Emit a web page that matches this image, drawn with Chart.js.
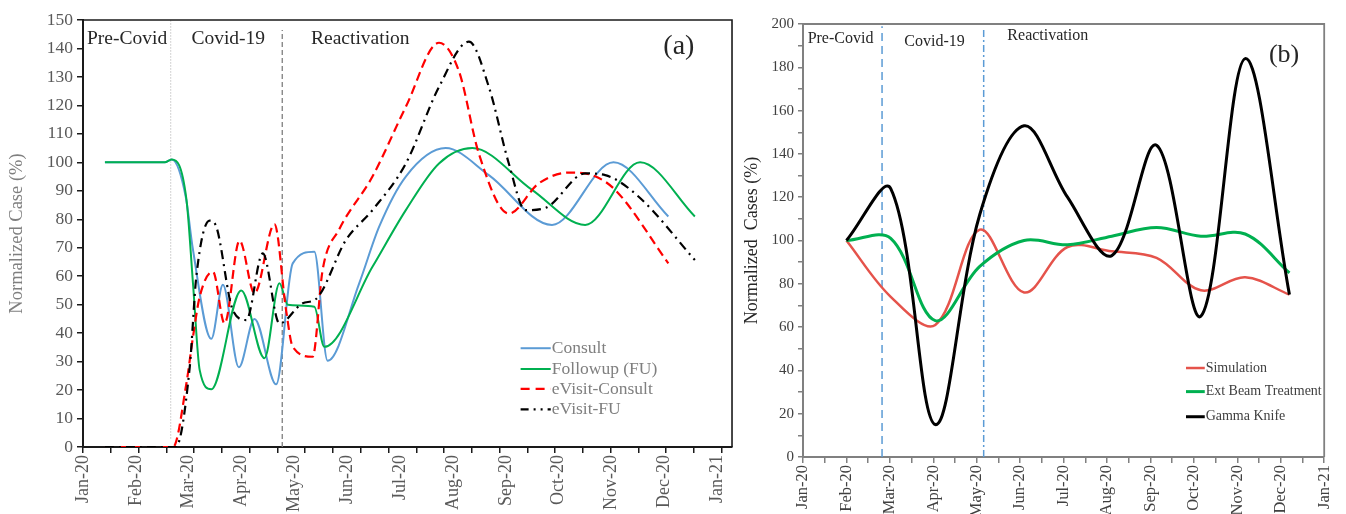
<!DOCTYPE html>
<html>
<head>
<meta charset="utf-8">
<script src="https://cdn.jsdelivr.net/npm/chart.js@4.4.1/dist/chart.umd.min.js"></script>
<style>
  html, body { margin: 0; padding: 0; background: #ffffff; }
  body { width: 1346px; height: 514px; position: relative; overflow: hidden; }
  canvas { position: absolute; top: 0; }
  #ca { left: 0; }
  #cb { left: 741px; }
</style>
</head>
<body>
<canvas id="ca" width="741" height="514"></canvas>
<canvas id="cb" width="605" height="514"></canvas>
<script>
// ---------- tick labels (x in months from Jan-20) ----------
const monthLabels = ['Jan-20','Feb-20','Mar-20','Apr-20','May-20','Jun-20','Jul-20','Aug-20','Sep-20','Oct-20','Nov-20','Dec-20','Jan-21'];
const phaseLabels = ['Pre-Covid','Covid-19','Reactivation'];

// ---------- panel (a) ----------
const consultX = [0.415,1.547,1.679,1.943,2.075,2.428,2.647,2.949,3.245,3.655,3.968,4.377,4.628,5.226,5.604,6.108,6.862,7.679,8.874,10.038,11.075];
const consultY = [100,100,101,88,70,38,57,28,45,22,64.5,68.6,30.3,57.5,77.4,95,105,95.5,78,100,81];

const followX = [0.415,1.547,1.679,1.957,2.081,2.208,2.428,2.994,3.434,3.717,3.874,4.377,4.566,5.477,6.108,6.736,7.364,8.496,9.502,10.540,11.577];
const followY = [100,100,101,87,57.5,27,20.3,55,31.2,57.5,50,49.3,35.2,63.3,83.2,99.6,105,90.3,78,100,81];

const eConsultX = [0.415,1.547,1.704,1.957,2.081,2.208,2.458,2.679,2.962,3.245,3.623,3.843,3.968,4.345,4.534,4.849,5.477,6.108,6.736,7.113,7.491,8.057,8.623,9.189,9.628,10.070,11.075];
const eConsultY = [0,0,0,22.4,38.7,52.8,61.6,43.4,72.5,54,78.3,48,35.2,31.7,62.2,76.5,95,119.5,142,132,103,82,92.6,96.4,95.5,90.3,64.5];

const eFUX = [0.415,1.547,1.755,2.019,2.145,2.396,2.509,2.836,3.089,3.402,3.717,4.157,4.409,4.975,5.477,6.108,6.736,7.302,7.679,8.057,8.372,8.749,9.504,9.881,10.509,11.577];
const eFUY = [0,0,0,28,60,79.5,78,48,44.6,68,43.4,50.5,52,72.7,83.2,99.6,126.5,142.4,126.5,99.6,83.2,84,96.1,95.5,88,65.7];

const phaseLinesA = [1.66, 3.77];   // boundaries Pre-Covid | Covid-19 | Reactivation
const tickStepA = 0.5255;           // spacing of the tick marks on axis (a), in months

// ---------- panel (b) ----------
const monthsB = [1.0,2.02,3.045,4.07,5.09,6.09,7.11,8.14,9.16,10.18,11.2];
const simulationY = [100,74,61,105,76,97,95,92,77,83,75];
const extBeamY    = [100,101,63,88,100,98,102,106,102,103,85];
const gammaKnifeY = [100,124,15,112,153,120,93,144,65,184,75];
const phaseLinesB = [1.82, 4.16];

// ---------- helpers ----------
const SERIF = "'Liberation Serif', 'Times New Roman', serif";
const pts = (xs, ys) => xs.map((x, i) => ({ x, y: ys[i] }));
const vline = (x, y0, y1) => [{ x, y: y0 }, { x, y: y1 }];

const overlay = {
  id: 'overlay',
  afterDraw(chart, args, o) {
    const { ctx, chartArea: ca, scales: { x, y } } = chart;
    ctx.save();
    ctx.strokeStyle = o.frameColor; ctx.lineWidth = o.frameWidth;
    ctx.beginPath();
    ctx.moveTo(ca.left, ca.top); ctx.lineTo(ca.right, ca.top); ctx.lineTo(ca.right, ca.bottom);
    ctx.stroke();
    ctx.textAlign = 'left'; ctx.textBaseline = 'alphabetic';
    for (const t of o.texts) {
      ctx.font = t.font; ctx.fillStyle = t.color;
      ctx.fillText(t.text, x.getPixelForValue(t.x), y.getPixelForValue(t.y));
    }
    const L = o.legend;
    ctx.textBaseline = 'middle';
    ctx.font = L.font;
    L.items.forEach((it, i) => {
      const ds = chart.data.datasets[it.ds];
      const py = y.getPixelForValue(L.rows[i]);
      const x0 = x.getPixelForValue(L.x0), x1 = x.getPixelForValue(L.x1);
      ctx.save();
      ctx.strokeStyle = ds.borderColor; ctx.lineWidth = ds.borderWidth;
      ctx.setLineDash(it.dash || []);
      ctx.beginPath(); ctx.moveTo(x0, py); ctx.lineTo(x1, py); ctx.stroke();
      ctx.restore();
      ctx.fillStyle = L.color;
      ctx.fillText(ds.label, x.getPixelForValue(L.tx), py);
    });
    ctx.restore();
  }
};

function halfMonthTicks(scale) {
  const t = [];
  for (let v = 0; v <= scale.max + 1e-9; v += 0.5) t.push({ value: v });
  scale.ticks = t;
}
// axis (a): evenly spaced tick marks (no label) followed by the labelled month ticks (no mark)
function ticksA(scale) {
  const marks = [], labs = [];
  for (let i = 0; i * tickStepA <= scale.max; i++) marks.push({ value: i * tickStepA, lab: false, mark: true });
  for (let k = 0; k < monthLabels.length; k++) labs.push({ value: k, lab: true, mark: false });
  scale.ticks = marks.concat(labs);
}

// ---------- chart (a) ----------
new Chart(document.getElementById('ca'), {
  type: 'line',
  data: {
    datasets: [
      { label: 'eVisit-FU', data: pts(eFUX, eFUY), borderColor: '#000000', borderWidth: 2.2, borderDash: [9, 5, 2, 5], cubicInterpolationMode: 'monotone', order: 0 },
      { label: 'eVisit-Consult', data: pts(eConsultX, eConsultY), borderColor: '#FF0000', borderWidth: 2.2, borderDash: [9, 5], cubicInterpolationMode: 'monotone', order: 1 },
      { label: 'Followup (FU)', data: pts(followX, followY), borderColor: '#00B050', borderWidth: 2, cubicInterpolationMode: 'monotone', order: 2 },
      { label: 'Consult', data: pts(consultX, consultY), borderColor: '#5B9BD5', borderWidth: 2, cubicInterpolationMode: 'monotone', order: 3 },
      { label: 'phase1', data: vline(phaseLinesA[0], 3, 150), borderColor: '#A6A6A6', borderWidth: 1, borderDash: [1, 2], order: 5 },
      { label: 'phase2', data: vline(phaseLinesA[1], 0, 146.5), borderColor: '#7F7F7F', borderWidth: 1.3, borderDash: [5, 3], order: 5 }
    ]
  },
  options: {
    responsive: false, animation: false,
    layout: { padding: { top: 20, right: 8, left: 0, bottom: 0 } },
    elements: { point: { radius: 0 }, line: { fill: false } },
    plugins: {
      legend: { display: false }, tooltip: { enabled: false },
      overlay: {
        frameColor: '#1a1a1a', frameWidth: 1.6,
        texts: [
          { text: phaseLabels[0], x: 0.075, y: 141.4, font: `19.5px ${SERIF}`, color: '#262626' },
          { text: phaseLabels[1], x: 2.051, y: 141.4, font: `19.5px ${SERIF}`, color: '#262626' },
          { text: phaseLabels[2], x: 4.315, y: 141.4, font: `19.5px ${SERIF}`, color: '#262626' },
          { text: '(a)', x: 10.98, y: 138, font: `28px ${SERIF}`, color: '#262626' }
        ],
        legend: {
          font: `17.5px ${SERIF}`, color: '#7F7F7F',
          x0: 8.28, x1: 8.85, tx: 8.87,
          rows: [34.7, 27.4, 20.4, 13.2],
          items: [{ ds: 3 }, { ds: 2 }, { ds: 1, dash: [9, 6] }, { ds: 0, dash: [8, 5, 2, 5, 2, 5] }]
        }
      }
    },
    scales: {
      x: {
        type: 'linear', min: 0, max: 12.28,
        afterFit: s => { s.height = 67; },
        afterBuildTicks: ticksA,
        grid: {
          drawOnChartArea: false, drawTicks: true, tickLength: 6, lineWidth: 1.5,
          tickColor: c => (c.tick && c.tick.mark) ? '#1a1a1a' : 'rgba(0,0,0,0)'
        },
        border: { display: true, color: '#1a1a1a', width: 2 },
        ticks: {
          autoSkip: false, maxRotation: 90, minRotation: 90, padding: 2,
          color: '#595959', font: { family: SERIF, size: 18 },
          callback: function (v, i, ticks) { return ticks[i].lab ? monthLabels[Math.round(v)] : ''; }
        }
      },
      y: {
        min: 0, max: 150,
        afterFit: s => { s.width = 83; },
        grid: { drawOnChartArea: false, drawTicks: true, tickLength: 6, color: '#1a1a1a', lineWidth: 1.5 },
        border: { display: true, color: '#1a1a1a', width: 2 },
        ticks: { stepSize: 10, padding: 4, color: '#595959', font: { family: SERIF, size: 17.5 } },
        title: { display: true, text: 'Normalized Case (%)', color: '#7F7F7F', font: { family: SERIF, size: 18.5 }, padding: { top: 6, bottom: 0 } }
      }
    }
  },
  plugins: [overlay]
});

// ---------- chart (b) ----------
new Chart(document.getElementById('cb'), {
  type: 'line',
  data: {
    datasets: [
      { label: 'Simulation', data: pts(monthsB, simulationY), borderColor: '#E5534B', borderWidth: 2.5, tension: 0.35, order: 2 },
      { label: 'Ext Beam Treatment', data: pts(monthsB, extBeamY), borderColor: '#00B050', borderWidth: 3, tension: 0.35, order: 1 },
      { label: 'Gamma Knife', data: pts(monthsB, gammaKnifeY), borderColor: '#000000', borderWidth: 3, tension: 0.35, order: 0 },
      { label: 'phaseB1', data: vline(phaseLinesB[0], 0, 199), borderColor: '#5B9BD5', borderWidth: 1.5, borderDash: [8, 5], order: 5 },
      { label: 'phaseB2', data: vline(phaseLinesB[1], 0, 198), borderColor: '#5B9BD5', borderWidth: 1.5, borderDash: [7, 3, 2, 3], order: 5 }
    ]
  },
  options: {
    responsive: false, animation: false,
    layout: { padding: { top: 24, right: 15, left: 0, bottom: 0 } },
    elements: { point: { radius: 0 }, line: { fill: false } },
    plugins: {
      legend: { display: false }, tooltip: { enabled: false },
      overlay: {
        frameColor: '#808080', frameWidth: 1.8,
        texts: [
          { text: phaseLabels[0], x: 0.107, y: 191.1, font: `16px ${SERIF}`, color: '#262626' },
          { text: phaseLabels[1], x: 2.334, y: 190, font: `16px ${SERIF}`, color: '#262626' },
          { text: phaseLabels[2], x: 4.705, y: 192.6, font: `16px ${SERIF}`, color: '#262626' },
          { text: '(b)', x: 10.727, y: 182.4, font: `26px ${SERIF}`, color: '#262626' }
        ],
        legend: {
          font: `14px ${SERIF}`, color: '#404040',
          x0: 8.818, x1: 9.25, tx: 9.27,
          rows: [41.1, 30.2, 18.6],
          items: [{ ds: 0 }, { ds: 1 }, { ds: 2 }]
        }
      }
    },
    scales: {
      x: {
        type: 'linear', min: 0, max: 12,
        afterFit: s => { s.height = 57; },
        afterBuildTicks: halfMonthTicks,
        grid: { drawOnChartArea: false, drawTicks: true, tickLength: 6, color: '#808080', lineWidth: 1.5 },
        border: { display: true, color: '#808080', width: 2 },
        ticks: {
          autoSkip: false, maxRotation: 90, minRotation: 90, padding: 2,
          color: '#404040', font: { family: SERIF, size: 16.5 },
          callback: v => Number.isInteger(v) ? monthLabels[v] : ''
        }
      },
      y: {
        min: 0, max: 200,
        afterFit: s => { s.width = 62; },
        grid: { drawOnChartArea: false, drawTicks: true, tickLength: 5, color: '#808080', lineWidth: 1.5 },
        border: { display: true, color: '#808080', width: 2 },
        ticks: { stepSize: 10, padding: 4, color: '#404040', font: { family: SERIF, size: 15 },
          callback: v => v % 20 === 0 ? String(v) : '' },
        title: { display: true, text: 'Normalized  Cases (%)', color: '#262626', font: { family: SERIF, size: 18 }, padding: { top: 0, bottom: 0 } }
      }
    }
  },
  plugins: [overlay]
});
</script>
</body>
</html>
